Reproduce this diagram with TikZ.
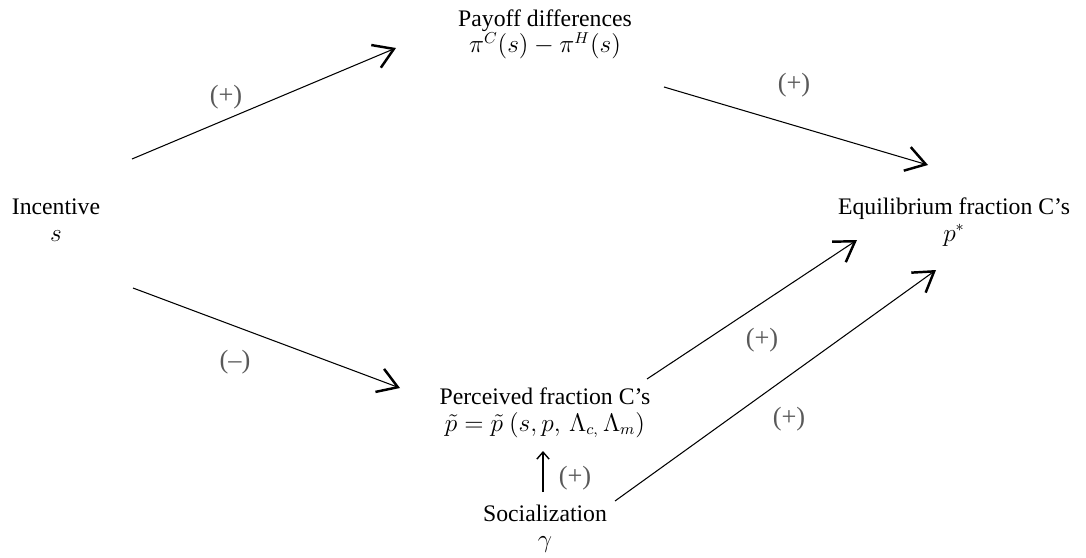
\documentclass[tikz,border=0pt]{standalone}
\usepackage{amsmath}
\usepackage{fontspec}
\setmainfont{Liberation Serif}
\usetikzlibrary{arrows.meta}

\tikzset{
	box/.style={align=center, font=\fontsize{13.5}{15}\selectfont},
	sign/.style={text=black!65, font=\fontsize{15}{16}\selectfont},
	link/.style={line width=0.6pt, -{Straight Barb[length=11pt,width=14pt,line width=1.4pt]}},
	smalllink/.style={line width=0.6pt, -{Straight Barb[length=4pt,width=7pt,line width=0.8pt]}},
}

\begin{document}
\begin{tikzpicture}[x=0.02cm,y=-0.02cm]
	\useasboundingbox (0,0) rectangle (1086,558);

	\node[box] (inc) at (56,220)  {Incentive\\ $s$};
	\node[box] (pay) at (545,34)  {Payoff differences\\ $\pi^C(s) - \pi^H(s)$};
	\node[box] (eq)  at (954,222) {Equilibrium fraction C’s\\ $p^{*}$};
	\node[box] (per) at (545,413) {Perceived fraction C’s\\ $\tilde{p} = \tilde{p}\ (s, p,\, \Lambda_{c,}\, \Lambda_m)$};
	\node[box] (soc) at (545,529) {Socialization\\ $\gamma$};

	\path[link] ([shift={(76,-61)}]inc.center) edge ([shift={(-149,14)}]pay.center);
	\path[link] ([shift={(77,68)}]inc.center) edge ([shift={(-145,-25)}]per.center);
	\path[link] ([shift={(119,53)}]pay.center) edge ([shift={(-26,-57)}]eq.center);
	\path[link] ([shift={(102,-34)}]per.center) edge ([shift={(-97,18)}]eq.center);
	\path[link] ([shift={(70,-28)}]soc.center) edge ([shift={(-18,48)}]eq.center);
	\path[smalllink] ([shift={(-2,-37)}]soc.center) edge ([shift={(-2,38)}]per.center);

	\node[sign] (s1) at (226,97)  {(+)};
	\node[sign] (s2) at (235,362) {(--)};
	\node[sign] (s3) at (794,85)  {(+)};
	\node[sign] (s4) at (762,340) {(+)};
	\node[sign] (s5) at (789,419) {(+)};
	\node[sign] (s6) at (575,478) {(+)};

\end{tikzpicture}
\end{document}
